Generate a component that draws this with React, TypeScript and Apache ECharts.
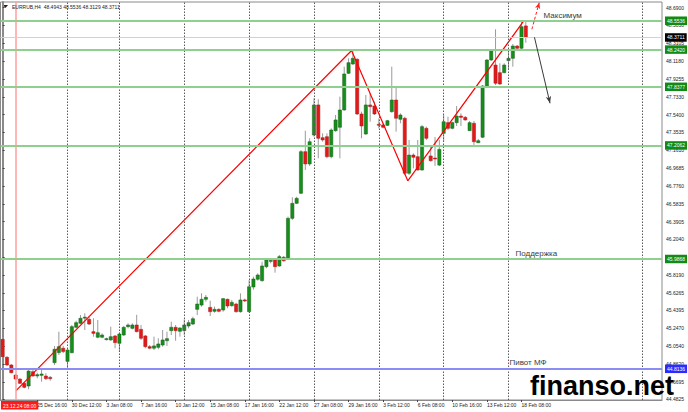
import React, { useEffect, useRef } from "react";
import * as echarts from "echarts";

// ---- candle data (EURRUB H4), index 0..121 ----
const opens = [
  45.127, 44.933, 44.851, 44.743, 44.7, 44.654, 44.625, 44.779, 44.733, 44.74,
  44.733, 44.718, 44.876, 44.984, 45.031, 44.89, 44.983, 45.256, 45.299, 45.362,
  45.342, 45.209, 45.149, 45.149, 45.127, 45.12, 45.163, 45.084, 45.173, 45.263,
  45.245, 45.281, 45.234, 45.163, 45.048, 45.031, 45.041, 45.066, 45.112, 45.22,
  45.256, 45.213, 45.22, 45.27, 45.291, 45.449, 45.495, 45.557, 45.47, 45.428,
  45.449, 45.442, 45.557, 45.488, 45.506, 45.424, 45.55, 45.424, 45.689, 45.772,
  45.757, 45.907, 45.97, 45.979, 45.915, 46.008, 45.986, 46.427, 46.588, 46.696,
  47.143, 47.011, 47.322, 47.645, 47.293, 47.304, 47.089, 47.368, 47.405, 47.591,
  47.985, 48.085, 48.136, 47.548, 47.333, 47.645, 47.634, 47.437, 47.43, 47.426,
  47.573, 47.698, 47.491, 47.502, 46.911, 47.107, 47.089, 46.946, 47.394, 47.097,
  47.075, 46.999, 47.34, 47.455, 47.394, 47.455, 47.526, 47.512, 47.369, 47.448,
  47.239, 47.298, 47.841, 48.128, 48.074, 47.992, 47.992, 48.121, 48.146, 48.278,
  48.254, 48.4943,
];
const highs = [
  45.149, 44.947, 44.862, 44.754, 44.708, 44.665, 44.797, 44.797, 44.768, 44.815,
  44.762, 44.733, 45.055, 45.209, 45.055, 45.031, 45.281, 45.327, 45.388, 45.406,
  45.37, 45.353, 45.335, 45.191, 45.145, 45.263, 45.173, 45.198, 45.27, 45.299,
  45.299, 45.39, 45.281, 45.173, 45.066, 45.155, 45.138, 45.227, 45.209, 45.316,
  45.281, 45.256, 45.342, 45.335, 45.37, 45.585, 45.621, 45.603, 45.542, 45.477,
  45.46, 45.567, 45.564, 45.55, 45.52, 45.621, 45.564, 45.764, 45.8, 45.836,
  45.961, 45.997, 45.986, 45.997, 46.033, 46.022, 46.445, 46.653, 46.659, 47.161,
  47.368, 47.287, 47.717, 47.706, 47.34, 47.34, 47.394, 47.537, 47.734, 48.056,
  48.146, 48.242, 48.146, 47.573, 47.752, 47.77, 47.68, 47.501, 47.449, 47.484,
  48.056, 47.838, 47.555, 47.519, 47.269, 47.125, 47.269, 47.43, 47.412, 47.196,
  47.301, 47.269, 47.537, 47.519, 47.465, 47.634, 47.555, 47.526, 47.473, 47.473,
  47.279, 47.859, 48.139, 48.246, 48.458, 48.093, 48.093, 48.236, 48.3, 48.289,
  48.55, 48.5536,
];
const lows = [
  44.923, 44.84, 44.762, 44.69, 44.647, 44.6, 44.59, 44.725, 44.708, 44.672,
  44.69, 44.682, 44.851, 44.959, 44.978, 44.808, 44.977, 45.245, 45.291, 45.227,
  45.281, 45.155, 45.138, 45.138, 45.115, 45.112, 45.031, 44.993, 45.163, 45.245,
  45.234, 45.202, 45.12, 45.031, 45.02, 45.012, 45.02, 45.048, 45.056, 45.173,
  45.112, 45.155, 45.173, 45.245, 45.281, 45.388, 45.477, 45.531, 45.377, 45.413,
  45.417, 45.424, 45.46, 45.477, 45.413, 45.413, 45.528, 45.413, 45.66, 45.757,
  45.746, 45.89, 45.943, 45.843, 45.907, 45.961, 45.979, 46.409, 46.581, 46.688,
  46.946, 46.989, 47.304, 47.072, 47.25, 47.072, 47.072, 47.358, 47.072, 47.583,
  47.978, 48.074, 47.537, 47.287, 47.322, 47.465, 47.537, 47.394, 47.394, 47.419,
  47.562, 47.358, 47.448, 46.892, 46.892, 46.964, 46.939, 46.939, 47.269, 47.036,
  46.99, 46.989, 47.25, 47.376, 47.384, 47.419, 47.419, 47.476, 47.365, 47.196,
  47.236, 47.29, 47.835, 48.117, 47.859, 47.859, 47.985, 48.028, 48.056, 48.243,
  48.243, 48.3129,
];
const closes = [
  44.94, 44.851, 44.768, 44.7, 44.654, 44.611, 44.786, 44.733, 44.747, 44.754,
  44.704, 44.704, 45.02, 45.048, 44.995, 45.012, 45.263, 45.306, 45.353, 45.365,
  45.291, 45.191, 45.198, 45.173, 45.134, 45.155, 45.091, 45.184, 45.256, 45.281,
  45.281, 45.209, 45.138, 45.048, 45.031, 45.056, 45.077, 45.12, 45.134, 45.256,
  45.22, 45.249, 45.281, 45.306, 45.348, 45.506, 45.557, 45.578, 45.424, 45.449,
  45.428, 45.564, 45.485, 45.524, 45.424, 45.55, 45.545, 45.692, 45.775, 45.818,
  45.915, 45.979, 45.975, 45.907, 46.015, 45.971, 46.427, 46.588, 46.642, 47.143,
  47.011, 47.25, 47.645, 47.287, 47.269, 47.089, 47.376, 47.484, 47.591, 47.978,
  48.099, 48.146, 47.548, 47.419, 47.645, 47.627, 47.548, 47.427, 47.405, 47.476,
  47.698, 47.502, 47.537, 46.911, 47.107, 47.083, 46.946, 47.412, 47.287, 47.046,
  47.064, 47.168, 47.465, 47.394, 47.455, 47.526, 47.512, 47.484, 47.455, 47.25,
  47.261, 47.849, 48.128, 48.228, 47.878, 47.87, 48.074, 48.146, 48.278, 48.254,
  48.486, 48.3711,
];

// ---- axis ticks / labels ----
const timeLabels = [
  "25 Dec 16:00", "30 Dec 12:00", "3 Jan 08:00", "7 Jan 16:00", "10 Jan 12:00",
  "15 Jan 08:00", "17 Jan 16:00", "22 Jan 12:00", "27 Jan 08:00", "29 Jan 16:00",
  "3 Feb 12:00", "6 Feb 08:00", "10 Feb 16:00", "13 Feb 12:00", "18 Feb 08:00",
];
const timeLabelBars = [8, 16, 24, 32, 40, 48, 56, 64, 72, 80, 88, 96, 104, 112, 120];
const gridBars = [15, 27, 42, 57, 72, 87, 102, 117, 148];
const priceTicks = [
  48.69, 48.503, 48.3105, 48.118, 47.9255, 47.733, 47.54, 47.3535, 47.161, 46.9685,
  46.776, 46.5835, 46.3905, 46.204, 46.0115, 45.819, 45.6265, 45.4395, 45.247, 45.054,
  44.862, 44.6695, 44.4825,
];
// tick labels fully hidden behind a level box in the reference
const hiddenPriceLabels = [46.0115];

// ---- levels & annotations ----
const greenLevels = [48.5536, 48.242, 47.8377, 47.2062, 45.9868];
const lastPrice = 48.3711;
const pivotLevel = 44.8136;
const zigzagBars = [3.1, 80.7, 93.7, 120.4];
const zigzagPrices = [44.575, 48.23, 46.83, 48.54];
const crossBar = 3;
const crossLabel = "23.12.24 08:00";
const header = "EURRUB,H4  48.4943 48.5536 48.3129 48.3711";
const notes = [
  { text: "Максимум", bar: 125.0, price: 48.601 },
  { text: "Поддержка", bar: 118.5, price: 46.044 },
  { text: "Пивот МФ", bar: 117.1, price: 44.876 },
];
const upArrow = { from: [122.4, 48.458], to: [124.1, 48.744] };
const downArrow = { from: [123.0, 48.372], to: [126.6, 47.663] };

const FONT = "'Liberation Sans', Arial, sans-serif";

export default function App() {
  const ref = useRef<HTMLDivElement>(null);
  useEffect(() => {
    document.body.style.margin = "0";
    const chart = echarts.init(ref.current as HTMLDivElement, null, { renderer: "svg" });
    const candles = opens.map((o, i) => [i, o, closes[i], lows[i], highs[i]]);
    const labelMap: Record<number, string> = {};
    timeLabelBars.forEach((b, k) => (labelMap[b] = timeLabels[k]));
    const priceLabelValues = priceTicks.filter((v) => !hiddenPriceLabels.includes(v));

    const levelItem = (v: number, color: string, width: number, bg: string) => ({
      yAxis: v,
      lineStyle: { color, width, type: "solid" },
      label: {
        show: true,
        position: "end",
        distance: 3,
        formatter: v.toFixed(4),
        backgroundColor: bg,
        color: "#fff",
        fontSize: 5,
        fontFamily: FONT,
        padding: [2, 2, 1.5, 2],
      },
    });

    chart.setOption({
      animation: false,
      backgroundColor: "#ffffff",
      grid: {
        left: 0.5,
        right: 26,
        top: 2,
        bottom: 12,
        show: true,
        borderColor: "#8a8a8a",
        borderWidth: 1,
        backgroundColor: "#ffffff",
      },
      xAxis: {
        type: "value",
        min: -0.5,
        max: 152.5,
        axisLine: { show: true, lineStyle: { color: "#8a8a8a" } },
        splitLine: { show: false },
        axisTick: { show: true, customValues: timeLabelBars, length: 2, lineStyle: { color: "#444" } },
        axisLabel: {
          customValues: timeLabelBars,
          formatter: (v: number) => labelMap[Math.round(v)] ?? "",
          align: "left",
          fontSize: 5,
          margin: 2,
          color: "#222",
          fontFamily: FONT,
        },
      },
      yAxis: {
        type: "value",
        position: "right",
        min: 44.4749,
        max: 48.7512,
        axisLine: { show: true, lineStyle: { color: "#8a8a8a", width: 2 } },
        splitLine: { show: false },
        axisTick: { show: true, customValues: priceTicks, length: 2, lineStyle: { color: "#444" } },
        axisLabel: {
          customValues: priceLabelValues,
          formatter: (v: number) => v.toFixed(4),
          fontSize: 5,
          margin: 4,
          color: "#222",
          fontFamily: FONT,
        },
      },
      graphic: [
        {
          type: "polygon",
          shape: { points: [[3, 5], [8, 5], [5.5, 8]] },
          style: { fill: "#222" },
        },
        {
          type: "text",
          x: 12,
          y: 7,
          style: { text: header, fontSize: 5, fontFamily: FONT, fill: "#222", verticalAlign: "middle" },
          z: 50,
        },
        {
          type: "text",
          x: 530,
          y: 385.7,
          style: {
            text: "finanso.net",
            font: "bold 27px 'Liberation Sans', Arial, sans-serif",
            fill: "#000",
            verticalAlign: "middle",
          },
          z: 100,
        },
      ],
      series: [
        {
          name: "grid",
          type: "line",
          data: [],
          z: 1,
          markLine: {
            silent: true,
            symbol: ["none", "none"],
            label: { show: false },
            lineStyle: { color: "#5a5a5a", width: 1, type: [1.5, 1.5] },
            data: gridBars.map((b) => ({ xAxis: b })),
          },
        },
        {
          name: "levels",
          type: "line",
          data: [],
          z: 2,
          markLine: {
            silent: true,
            symbol: ["none", "none"],
            data: [
              {
                xAxis: crossBar,
                lineStyle: { color: "#ff9e9e", width: 1.5, type: "solid" },
                label: {
                  show: true,
                  position: "start",
                  distance: 1,
                  offset: [4, 0],
                  formatter: crossLabel,
                  backgroundColor: "#ff1a1a",
                  color: "#fff",
                  fontSize: 5,
                  fontFamily: FONT,
                  padding: [2, 2, 1.5, 2],
                },
              },
              { ...levelItem(lastPrice, "#d2d2d2", 1, "#000000") },
              ...greenLevels.map((v) => levelItem(v, "#8fcf8f", 2, "#138a13")),
              levelItem(pivotLevel, "#8c8cf5", 2, "#2b2bff"),
            ],
          },
        },
        {
          name: "candles",
          type: "custom",
          z: 3,
          data: candles,
          encode: { x: 0, y: [1, 2, 3, 4] },
          renderItem: (params: any, api: any) => {
            const i = api.value(0);
            const o = api.value(1);
            const c = api.value(2);
            const l = api.value(3);
            const h = api.value(4);
            const pO = api.coord([i, o]);
            const pC = api.coord([i, c]);
            const pL = api.coord([i, l]);
            const pH = api.coord([i, h]);
            const up = c >= o;
            const x = pO[0];
            const top = Math.min(pO[1], pC[1]);
            const ht = Math.max(1, Math.abs(pO[1] - pC[1]));
            return {
              type: "group",
              children: [
                {
                  type: "line",
                  shape: { x1: x, y1: pH[1], x2: x, y2: pL[1] },
                  style: { stroke: "#9a9a9a", lineWidth: 1 },
                },
                {
                  type: "rect",
                  shape: { x: x - 1.6, y: top, width: 3.2, height: ht },
                  style: {
                    fill: up ? "#14901a" : "#e51818",
                    stroke: up ? "#1c5a1c" : "#a01c1c",
                    lineWidth: 0.5,
                  },
                },
              ],
            };
          },
        },
        {
          name: "zigzag",
          type: "line",
          z: 4,
          symbol: "none",
          lineStyle: { color: "#ff0000", width: 1.2 },
          data: zigzagBars.map((b, k) => [b, zigzagPrices[k]]),
          markLine: {
            silent: true,
            symbol: ["none", "none"],
            label: { show: false },
            data: [
              [
                { coord: upArrow.from, symbol: "none", lineStyle: { color: "#ff2020", width: 1, type: [3, 2] } },
                { coord: upArrow.to, symbol: "arrow", symbolSize: [4, 6], lineStyle: { color: "#ff2020", width: 1, type: [3, 2] } },
              ],
              [
                { coord: downArrow.from, symbol: "none", lineStyle: { color: "#3a3a3a", width: 1, type: "solid" } },
                { coord: downArrow.to, symbol: "arrow", symbolSize: [4, 7], lineStyle: { color: "#3a3a3a", width: 1, type: "solid" } },
              ],
            ],
          },
          markPoint: {
            silent: true,
            symbol: "circle",
            symbolSize: 1,
            itemStyle: { color: "rgba(0,0,0,0)" },
            label: {
              show: true,
              position: "right",
              distance: 0,
              color: "#3c3c3c",
              fontSize: 8,
              fontFamily: FONT,
            },
            data: notes.map((n) => ({
              coord: [n.bar, n.price],
              value: n.text,
              label: { formatter: n.text },
            })),
          },
        },
      ],
    });
    return () => chart.dispose();
  }, []);
  return <div ref={ref} style={{ position: "absolute", left: 0, top: 0, width: 688, height: 412 }} />;
}
